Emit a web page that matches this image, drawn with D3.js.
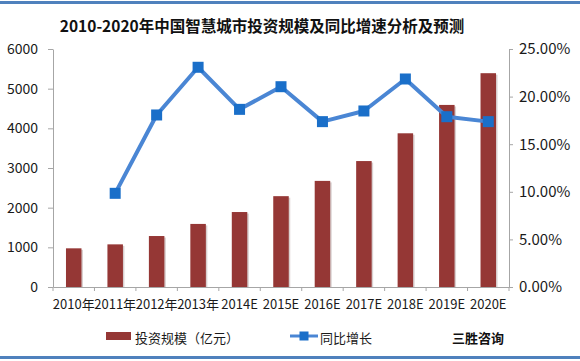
<!DOCTYPE html>
<html>
<head>
<meta charset="utf-8">
<script src="https://cdn.jsdelivr.net/npm/d3@7/dist/d3.min.js"></script>
<style>
  html, body { margin: 0; padding: 0; background: #fff; }
  svg text { font-family: "Noto Sans CJK SC", "Liberation Sans", sans-serif; }
</style>
</head>
<body>
<div id="chart"></div>
<script>
var years = ['2010年', '2011年', '2012年', '2013年', '2014E', '2015E', '2016E', '2017E', '2018E', '2019E', '2020E'];
var invest = [975, 1075, 1285, 1590, 1890, 2290, 2675, 3175, 3875, 4590, 5390];
var growth = [null, 9.84, 18.07, 23.08, 18.66, 21.04, 17.37, 18.49, 21.85, 17.89, 17.37];
var leftTicks = [0, 1000, 2000, 3000, 4000, 5000, 6000];
var rightTicks = [0, 5, 10, 15, 20, 25];

var W = 580, H = 361;
var margin = {top: 49, right: 71, bottom: 74, left: 53};

var svg = d3.select('#chart').append('svg')
    .attr('width', W)
    .attr('height', H);

// frame lines top and bottom
svg.append('rect').attr('x', 0).attr('y', 1).attr('width', W).attr('height', 3).attr('fill', '#4f81bd');
svg.append('rect').attr('x', 0).attr('y', 356).attr('width', W).attr('height', 3).attr('fill', '#4f81bd');

svg.append('text')
    .attr('x', 262)
    .attr('y', 32)
    .attr('text-anchor', 'middle')
    .style('font-size', '15.5px')
    .style('font-weight', 'bold')
    .style('fill', '#111')
    .text('2010-2020年中国智慧城市投资规模及同比增速分析及预测');

var x = d3.scaleBand().domain(years).range([margin.left, W - margin.right]);
var yL = d3.scaleLinear().domain([0, 6000]).range([H - margin.bottom, margin.top]);
var yR = d3.scaleLinear().domain([0, 25]).range([H - margin.bottom, margin.top]);

var g = svg.append('g');

// axes
var axL = g.append('g')
    .attr('transform', 'translate(' + margin.left + ',0)')
    .call(d3.axisLeft(yL).tickValues(leftTicks).tickSize(5).tickSizeOuter(0).tickPadding(10)
        .tickFormat(d3.format('d')));
var axR = g.append('g')
    .attr('transform', 'translate(' + (W - margin.right) + ',0)')
    .call(d3.axisRight(yR).tickValues(rightTicks).tickSize(4).tickSizeOuter(0).tickPadding(6)
        .tickFormat(function (d) { return d.toFixed(2) + '%'; }));
var axX = g.append('g')
    .attr('transform', 'translate(0,' + (H - margin.bottom) + ')')
    .call(d3.axisBottom(x).tickSize(0).tickPadding(13));

[axL, axR, axX].forEach(function (a) {
    a.select('.domain').attr('stroke', '#a6a6a6');
    a.selectAll('.tick line').attr('stroke', '#a6a6a6');
    a.selectAll('text').style('font-size', '14px').style('fill', '#1a1a1a')
        .style('font-family', '"Noto Sans CJK SC", sans-serif');
});
axX.selectAll('text').style('font-size', '13px');
axR.selectAll('text').style('font-size', '15px');

// x tick marks at band edges
var edges = years.map(function (d) { return x(d); }).concat([x.range()[1]]);
g.selectAll('.xtick').data(edges).enter().append('line')
    .attr('x1', function (d) { return d; })
    .attr('x2', function (d) { return d; })
    .attr('y1', H - margin.bottom)
    .attr('y2', H - margin.bottom + 4)
    .attr('stroke', '#a6a6a6');

// bars
var bw = 15.5;
g.selectAll('.shadow').data(invest).enter().append('rect')
    .attr('x', function (d, i) { return x(years[i]) + x.bandwidth() / 2 - bw / 2 + 1.5; })
    .attr('y', function (d) { return yL(d) + 1.5; })
    .attr('width', bw)
    .attr('height', function (d) { return yL(0) - yL(d) - 1.5; })
    .attr('fill', '#d9d0d0');
g.selectAll('.bar').data(invest).enter().append('rect')
    .attr('x', function (d, i) { return x(years[i]) + x.bandwidth() / 2 - bw / 2; })
    .attr('y', function (d) { return yL(d); })
    .attr('width', bw)
    .attr('height', function (d) { return yL(0) - yL(d); })
    .attr('fill', '#953735');

// growth line
var pts = growth.map(function (d, i) { return {k: years[i], v: d}; }).filter(function (d) { return d.v !== null; });
var line = d3.line()
    .x(function (d) { return x(d.k) + x.bandwidth() / 2; })
    .y(function (d) { return yR(d.v); });
g.append('path').datum(pts)
    .attr('d', line)
    .attr('fill', 'none')
    .attr('stroke', '#4a86d4')
    .attr('stroke-width', 4)
    .attr('stroke-linejoin', 'round');
var ms = 11;
g.selectAll('.mk').data(pts).enter().append('rect')
    .attr('x', function (d) { return x(d.k) + x.bandwidth() / 2 - ms / 2; })
    .attr('y', function (d) { return yR(d.v) - ms / 2; })
    .attr('width', ms)
    .attr('height', ms)
    .attr('fill', '#1a6fc9');

// legend
var ly = 338;
svg.append('rect').attr('x', 106).attr('y', ly - 6).attr('width', 25).attr('height', 8).attr('fill', '#953735');
svg.append('text').attr('x', 135).attr('y', ly + 5).style('font-size', '13px').style('fill', '#1a1a1a')
    .text('投资规模（亿元）');
svg.append('line').attr('x1', 290).attr('x2', 318).attr('y1', ly - 2).attr('y2', ly - 2)
    .attr('stroke', '#4a86d4').attr('stroke-width', 3);
svg.append('rect').attr('x', 299.5).attr('y', ly - 6.5).attr('width', 9).attr('height', 9).attr('fill', '#1a6fc9');
svg.append('text').attr('x', 320).attr('y', ly + 5).style('font-size', '13px').style('fill', '#1a1a1a')
    .text('同比增长');
svg.append('text').attr('x', 452).attr('y', ly + 5).style('font-size', '13px').style('font-weight', 'bold').style('fill', '#111')
    .text('三胜咨询');
</script>
</body>
</html>
